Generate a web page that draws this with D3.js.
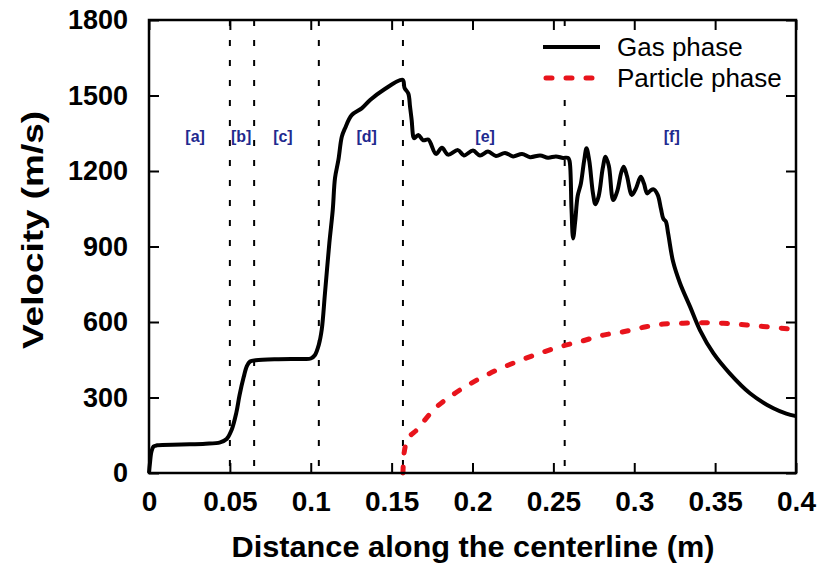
<!DOCTYPE html>
<html>
<head>
<meta charset="utf-8">
<script src="https://cdn.jsdelivr.net/npm/d3@7"></script>
<style>
  body { margin: 0; background: #fff; }
  text { font-family: "Liberation Sans", Arial, sans-serif; }
</style>
</head>
<body>
<script>
/* data */
const gasX = [0, 0.0006, 0.0015, 0.0028, 0.005, 0.02, 0.035, 0.044, 0.048, 0.051, 0.054, 0.056, 0.0585, 0.0605, 0.0625, 0.066, 0.08, 0.095,
  0.1, 0.1025, 0.105, 0.1068, 0.1088, 0.1115, 0.1136, 0.115, 0.1171, 0.1192, 0.1212, 0.1253, 0.1315, 0.1367, 0.1449, 0.1568,
  0.158, 0.1603, 0.1614, 0.1624, 0.1634, 0.1640, 0.1665, 0.1696, 0.1727, 0.1774, 0.1811, 0.1849, 0.1910, 0.1947, 0.2003, 0.2046,
  0.2096, 0.2145, 0.2201, 0.2251, 0.2306, 0.2356, 0.2418, 0.2467, 0.2516, 0.2560, 0.2591,
  0.2600, 0.2612, 0.2622, 0.2635, 0.2650, 0.2670, 0.2690, 0.2705, 0.2722, 0.2745, 0.2760, 0.2780, 0.2805, 0.2823, 0.2843, 0.2870,
  0.2895, 0.2920, 0.2935, 0.2955, 0.2985, 0.3010, 0.3040, 0.3060, 0.3080, 0.3100, 0.3120, 0.3145, 0.3165, 0.3180, 0.3195, 0.3210,
  0.3240, 0.3283, 0.3345, 0.3406, 0.3489, 0.3590, 0.3715, 0.3860, 0.3940, 0.4000];
const gasV = [0, 40, 85, 105, 110, 113, 116, 122, 135, 170, 240, 310, 380, 425, 443, 448, 452, 453,
  455, 468, 510, 570, 715, 914, 1045, 1172, 1244, 1336, 1370, 1422, 1449, 1482, 1522, 1562,
  1530, 1508, 1455, 1402, 1336, 1330, 1343, 1322, 1325, 1268, 1292, 1265, 1283, 1262, 1281, 1262,
  1277, 1260, 1272, 1258, 1268, 1255, 1262, 1253, 1258, 1252, 1252,
  1240, 1050, 932, 1000, 1100, 1150, 1240, 1290, 1240, 1110, 1068, 1100, 1210, 1257, 1220, 1085,
  1120, 1195, 1217, 1180, 1105, 1130, 1177, 1150, 1111, 1122, 1127, 1105, 1050, 1010, 1000, 950,
  840, 754, 661, 568, 476, 396, 317, 257, 236, 226];

const partX = [0.157, 0.1573, 0.158, 0.1598, 0.1655, 0.1758, 0.1892, 0.2026, 0.215, 0.2273, 0.2417, 0.2541, 0.2665, 0.2809,
  0.2933, 0.3056, 0.318, 0.3303, 0.3427, 0.3551, 0.3695, 0.3818, 0.4];
const partV = [0, 50, 91, 130, 171, 250, 317, 369, 409, 442, 476, 502, 522, 548,
  561, 579, 592, 595, 597, 595, 588, 581, 570];

const zoneLines = [0.05, 0.065, 0.105, 0.157, 0.257];
const zoneNames = ['[a]', '[b]', '[c]', '[d]', '[e]', '[f]'];
const zoneLabelX = [0.0285, 0.057, 0.0828, 0.1346, 0.2078, 0.3232];

const xTicks = [0, 0.05, 0.1, 0.15, 0.2, 0.25, 0.3, 0.35, 0.4];
const xTickLabels = ['0', '0.05', '0.1', '0.15', '0.2', '0.25', '0.3', '0.35', '0.4'];
const yTicks = [0, 300, 600, 900, 1200, 1500, 1800];

const seriesNames = ['Gas phase', 'Particle phase'];

/* canvas */
const width = 821, height = 565;
const margin = { top: 20, right: 25, bottom: 92, left: 149 };
const iw = width - margin.left - margin.right;
const ih = height - margin.top - margin.bottom;

const svg = d3.select('body').append('svg')
  .attr('width', width).attr('height', height);
const g = svg.append('g').attr('transform', `translate(${margin.left},${margin.top})`);

const x = d3.scaleLinear().domain([0, 0.4]).range([0, iw]);
const y = d3.scaleLinear().domain([0, 1800]).range([ih, 0]);

/* zone separators */
g.append('g').selectAll('line').data(zoneLines).enter().append('line')
  .attr('x1', d => x(d)).attr('x2', d => x(d))
  .attr('y1', 0).attr('y2', ih)
  .attr('stroke', '#000').attr('stroke-width', 2)
  .attr('stroke-dasharray', '6,14');

/* zone labels */
g.append('g').selectAll('text').data(zoneNames).enter().append('text')
  .attr('x', (d, i) => x(zoneLabelX[i])).attr('y', 122)
  .attr('text-anchor', 'middle')
  .attr('font-size', 16).attr('font-weight', 'bold')
  .attr('fill', '#1f2a8f')
  .text(d => d);

/* curves */
const line = d3.line().x(d => x(d[0])).y(d => y(d[1])).curve(d3.curveMonotoneX);

g.append('path').datum(partX.map((d, i) => [d, partV[i]]))
  .attr('d', line).attr('fill', 'none')
  .attr('stroke', '#e8141c').attr('stroke-width', 5)
  .attr('stroke-linecap', 'round').attr('stroke-dasharray', '6,14');

g.append('path').datum(gasX.map((d, i) => [d, gasV[i]]))
  .attr('d', d3.line().x(d => x(d[0])).y(d => y(d[1])).curve(d3.curveCatmullRom.alpha(0.5)))
  .attr('fill', 'none')
  .attr('stroke', '#000').attr('stroke-width', 4)
  .attr('stroke-linejoin', 'round');

/* axes, ticks pointing in */
const xb = g.append('g').attr('transform', `translate(0,${ih})`)
  .call(d3.axisBottom(x).tickValues(xTicks).tickSizeInner(-10).tickSizeOuter(0).tickPadding(18)
    .tickFormat((d, i) => xTickLabels[i]));
g.append('g')
  .call(d3.axisTop(x).tickValues(xTicks).tickSizeInner(-10).tickSizeOuter(0).tickFormat(''));
const yl = g.append('g')
  .call(d3.axisLeft(y).tickValues(yTicks).tickSizeInner(-10).tickSizeOuter(0).tickPadding(21)
    .tickFormat(d3.format('d')));
g.append('g').attr('transform', `translate(${iw},0)`)
  .call(d3.axisRight(y).tickValues(yTicks).tickSizeInner(-10).tickSizeOuter(0).tickFormat(''));

g.selectAll('.domain').remove();
g.selectAll('.tick line').attr('stroke', '#000').attr('stroke-width', 2);
xb.selectAll('text').attr('font-size', 28).attr('font-weight', 'bold').attr('fill', '#000')
  .style('font-family', '"Liberation Sans", Arial, sans-serif');
yl.selectAll('text').attr('font-size', 27).attr('font-weight', 'bold').attr('fill', '#000')
  .style('font-family', '"Liberation Sans", Arial, sans-serif');

/* frame */
g.append('rect').attr('width', iw).attr('height', ih)
  .attr('fill', 'none').attr('stroke', '#000').attr('stroke-width', 2.5);

/* legend */
const lg = svg.append('g');
lg.append('rect').attr('x', 538).attr('y', 40).attr('width', 255).attr('height', 54).attr('fill', '#fff');
lg.append('line').attr('x1', 543).attr('x2', 600).attr('y1', 47).attr('y2', 47)
  .attr('stroke', '#000').attr('stroke-width', 4);
lg.append('line').attr('x1', 546).attr('x2', 600).attr('y1', 78).attr('y2', 78)
  .attr('stroke', '#e8141c').attr('stroke-width', 5)
  .attr('stroke-linecap', 'round').attr('stroke-dasharray', '6,14');
lg.selectAll('text.leg').data(seriesNames).enter().append('text').attr('class', 'leg')
  .attr('x', 617).attr('y', (d, i) => 56 + i * 31)
  .attr('font-size', 26).attr('fill', '#000')
  .text(d => d);

/* axis titles */
svg.append('text').attr('x', 473).attr('y', 557)
  .attr('text-anchor', 'middle').attr('font-size', 30).attr('font-weight', 'bold')
  .attr('textLength', 483).attr('lengthAdjust', 'spacingAndGlyphs')
  .text('Distance along the centerline (m)');
svg.append('text').attr('transform', 'translate(43,230) rotate(-90)')
  .attr('text-anchor', 'middle').attr('font-size', 30).attr('font-weight', 'bold')
  .attr('textLength', 238).attr('lengthAdjust', 'spacingAndGlyphs')
  .text('Velocity (m/s)');
</script>
</body>
</html>
